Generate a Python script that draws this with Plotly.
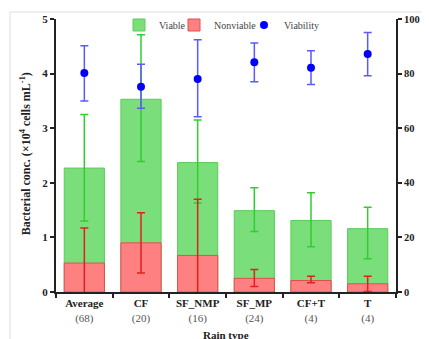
import plotly.graph_objects as go

categories = ["Average", "CF", "SF_NMP", "SF_MP", "CF+T", "T"]
counts = ["(68)", "(20)", "(16)", "(24)", "(4)", "(4)"]

total_conc = [2.27, 3.53, 2.37, 1.49, 1.31, 1.16]
total_err_plus = [0.98, 1.18, 0.78, 0.42, 0.51, 0.39]
total_err_minus = [0.97, 1.14, 0.74, 0.38, 0.48, 0.55]

nonviable_conc = [0.53, 0.90, 0.67, 0.25, 0.21, 0.15]
nonviable_err_plus = [0.64, 0.55, 1.03, 0.16, 0.08, 0.14]
nonviable_err_minus = [0.64, 0.55, 1.03, 0.15, 0.04, 0.14]

viability = [80.2, 75.2, 78.0, 84.2, 82.1, 87.2]
viability_err_plus = [10.0, 8.2, 14.4, 7.0, 6.3, 7.9]
viability_err_minus = [10.2, 7.9, 13.8, 7.2, 6.1, 8.0]

FONT = "Liberation Serif"
OFF = 8  # page body margin offset
W, H = 429 - OFF, 339 - OFF
L, T = 56 - OFF, 19 - OFF
R = W - (396 - OFF)
B = H - (291.7 - OFF)
pw, ph = W - L - R, H - T - B

def px(x):
    return (x - OFF - L) / pw

def py(y):
    return (H - B - (y - OFF)) / ph

def cx(x):
    return (x - OFF) / W

def cy(y):
    return 1 - (y - OFF) / H

ticktext = [f"<b>{c}</b><br><span style='font-size:11px;color:#555555;font-weight:normal'>{n}</span>"
            for c, n in zip(categories, counts)]

fig = go.Figure()
fig.add_trace(go.Bar(
    x=categories, y=total_conc, name="Viable", legend="legend",
    marker=dict(color="#7ade7a", line=dict(color="#5ccc5c", width=1)),
    width=0.71,
    error_y=dict(type="data", array=total_err_plus, arrayminus=total_err_minus,
                 color="#33cc33", thickness=1.5, width=4),
))
fig.add_trace(go.Bar(
    x=categories, y=nonviable_conc, name="Nonviable", legend="legend2",
    marker=dict(color="#ff8080", line=dict(color="#e05050", width=1)),
    width=0.71,
    error_y=dict(type="data", array=nonviable_err_plus, arrayminus=nonviable_err_minus,
                 color="#e02020", thickness=1.5, width=4),
))
fig.add_trace(go.Scatter(
    x=categories, y=viability, name="Viability", yaxis="y2", mode="markers", legend="legend3",
    marker=dict(color="#0000ff", size=8),
    error_y=dict(type="data", array=viability_err_plus, arrayminus=viability_err_minus,
                 color="#5a5aff", thickness=1.5, width=4),
))

axis_common = dict(showline=True, linecolor="#222222", linewidth=2, ticks="outside",
                   tickcolor="#222222", tickwidth=1.5, ticklen=4, showgrid=False, zeroline=False)

def leg(xpix):
    return dict(orientation="h", xref="container", yref="container",
                x=cx(xpix), xanchor="left", y=cy(25), yanchor="middle",
                font=dict(family=FONT, size=10, color="#444444"), bgcolor="rgba(0,0,0,0)",
                itemwidth=30, borderwidth=0)

fig.update_layout(
    width=W, height=H,
    margin=dict(l=L, r=R, t=T, b=B, pad=0, autoexpand=False),
    paper_bgcolor="white", plot_bgcolor="white",
    barmode="overlay",
    font=dict(family=FONT, color="#222222"),
    showlegend=True,
    legend=leg(119),
    legend2=leg(174),
    legend3=leg(244),
    xaxis=dict(**axis_common, tickson="boundaries", tickmode="array",
               tickvals=categories, ticktext=ticktext, range=[-0.5, 5.5],
               tickfont=dict(family=FONT, size=11, color="#222222")),
    yaxis=dict(**axis_common, range=[0, 5], tickvals=[0, 1, 2, 3, 4, 5],
               ticktext=[f"<b>{v}</b>" for v in [0, 1, 2, 3, 4, 5]],
               tickfont=dict(family=FONT, size=11, color="#222222")),
    yaxis2=dict(**axis_common, overlaying="y", side="right", range=[0, 100],
                tickvals=[0, 20, 40, 60, 80, 100],
                ticktext=[f"<b>{v}</b>" for v in [0, 20, 40, 60, 80, 100]],
                tickfont=dict(family=FONT, size=10.5, color="#222222")),
    shapes=[dict(type="rect", xref="paper", yref="paper",
                 x0=px(10), x1=px(445), y0=py(360), y1=py(12),
                 line=dict(color="#dddddd", width=1), fillcolor="rgba(0,0,0,0)", layer="below")],
    annotations=[
        dict(text="<b>Bacterial conc. (×10<sup>4</sup> cells mL<sup>-1</sup>)</b>",
             xref="paper", yref="paper", x=px(25), y=py(154), textangle=-90,
             showarrow=False, font=dict(family=FONT, size=12, color="#222222"),
             xanchor="center", yanchor="middle"),
        dict(text="<b>Bacterial viability (%)</b>",
             xref="paper", yref="paper", x=px(431), y=py(160), textangle=90,
             showarrow=False, font=dict(family=FONT, size=12, color="#222222"),
             xanchor="center", yanchor="middle"),
        dict(text="<b>Rain type</b>", xref="paper", yref="paper", x=px(226), y=py(327),
             showarrow=False, font=dict(family=FONT, size=11, color="#222222"),
             xanchor="center", yanchor="top"),
    ],
)

fig.write_html("out.html")
